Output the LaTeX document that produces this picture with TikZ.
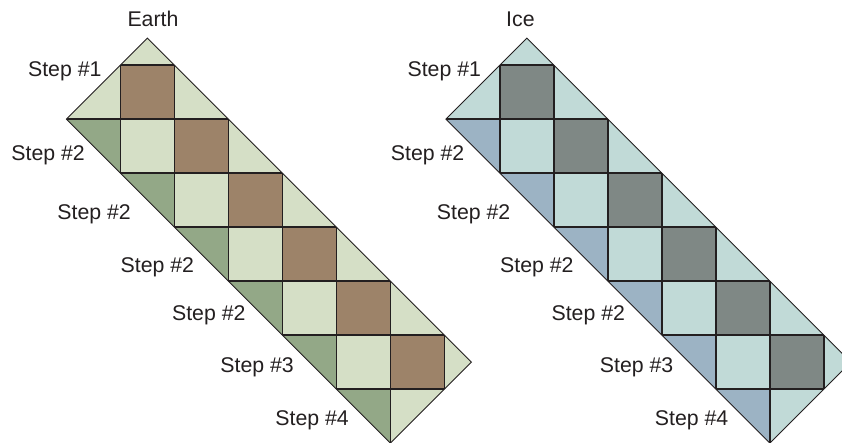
\documentclass[tikz,border=0pt]{standalone}
\usepackage{fontspec}
\setmainfont{Liberation Sans}

\definecolor{earthlight}{HTML}{D5DFC6}
\definecolor{earthsquare}{HTML}{9D8369}
\definecolor{earthedge}{HTML}{93A887}
\definecolor{icelight}{HTML}{C1DAD7}
\definecolor{icesquare}{HTML}{7F8885}
\definecolor{iceedge}{HTML}{9CB3C4}
\definecolor{ink}{HTML}{231F20}

\tikzset{
  cell line/.style={draw=ink, line width=1.6pt},
  edge line/.style={draw=ink, line width=0.9pt, line join=miter},
  steplabel/.style={anchor=base east, inner sep=0pt, text=ink,
                    font=\fontsize{21.3}{25}\selectfont},
  titlelabel/.style={anchor=base west, inner sep=0pt, text=ink,
                     font=\fontsize{21.3}{25}\selectfont},
}

% One diagonal strip of squares: #1 horizontal offset, #2 background,
% #3 square colour, #4 lower-edge triangle colour, #5 name prefix
\newcommand\quiltstrip[5]{%
  \begin{scope}[shift={(#1+66.4,65.1)}, x=54pt, y=-54pt]
    \def\stripoutline{(1.5,-0.5) -- (7.5,5.5) -- (6,7) -- (0,1) -- cycle}
    \fill[#2] \stripoutline;
    \foreach \j in {0,...,5}
      \fill[#3] (\j+1,\j) rectangle (\j+2,\j+1);
    \foreach \j in {1,...,6}
      \fill[#4] (\j-1,\j) -- (\j,\j) -- (\j,\j+1) -- cycle;
    \begin{scope}
      \clip \stripoutline;
      \foreach \k in {1,...,7}
        \draw[cell line] (\k,-1) -- (\k,8);
      \foreach \j in {0,...,6}
        \draw[cell line] (-1,\j) -- (9,\j);
    \end{scope}
    \draw[edge line] \stripoutline;
  \end{scope}
  \begin{scope}[xshift=#1]
    \node[steplabel] (#5-s1) at (101.7,76.0)  {Step \#1};
    \node[steplabel] (#5-s2) at (85.0,160.7)  {Step \#2};
    \node[steplabel] (#5-s3) at (131.0,219.0) {Step \#2};
    \node[steplabel] (#5-s4) at (194.3,272.3) {Step \#2};
    \node[steplabel] (#5-s5) at (245.7,320.0) {Step \#2};
    \node[steplabel] (#5-s6) at (294.0,372.3) {Step \#3};
    \node[steplabel] (#5-s7) at (349.0,425.7) {Step \#4};
  \end{scope}
}

\begin{document}
\begin{tikzpicture}[x=1pt, y=-1pt]
  \path[use as bounding box] (0,0) rectangle (842,442);
  \clip (0,0) rectangle (842,442);

  \quiltstrip{0}{earthlight}{earthsquare}{earthedge}{earth}
  \quiltstrip{379.5}{icelight}{icesquare}{iceedge}{ice}

  \node[titlelabel] (earth-title) at (127.3,26.7) {Earth};
  \node[titlelabel] (ice-title)   at (506.0,26.7) {Ice};
\end{tikzpicture}
\end{document}
